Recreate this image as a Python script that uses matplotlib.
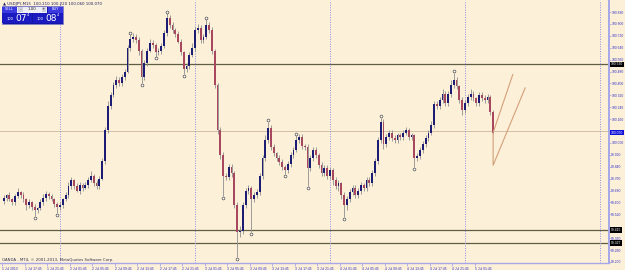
import numpy as np
import matplotlib.pyplot as plt
from matplotlib.patches import Rectangle
from matplotlib.transforms import blended_transform_factory

# USDJPY candles, half-hour steps, hours counted from 2 Jul 2013 00:00
symbol = "USDJPY,M15"
start_hour = -10.0
bar_hours = 0.5
first_open = 99.61
closes = [
    99.63, 99.65, 99.62, 99.60, 99.64, 99.67, 99.65, 99.62, 99.58, 99.60,
    99.57, 99.55, 99.56, 99.60, 99.63, 99.66, 99.64, 99.62, 99.59, 99.57,
    99.58, 99.62, 99.65, 99.71, 99.75, 99.71, 99.68, 99.72, 99.70, 99.72,
    99.75, 99.78, 99.73, 99.71, 99.76, 99.88, 100.09, 100.25, 100.32, 100.39,
    100.42, 100.40, 100.44, 100.48, 100.64, 100.70, 100.71, 100.69, 100.62, 100.44,
    100.54, 100.62, 100.67, 100.66, 100.61, 100.62, 100.65, 100.74, 100.84, 100.79,
    100.76, 100.73, 100.68, 100.61, 100.50, 100.52, 100.59, 100.64, 100.76, 100.77,
    100.69, 100.71, 100.79, 100.76, 100.62, 100.39, 100.09, 99.92, 99.78, 99.77,
    99.84, 99.80, 99.58, 99.40, 99.41, 99.58, 99.68, 99.70, 99.62, 99.65,
    99.67, 99.78, 99.90, 100.02, 100.10, 99.97, 99.93, 99.90, 99.87, 99.84,
    99.82, 99.86, 99.92, 99.95, 100.02, 100.04, 99.98, 99.97, 99.83, 99.90,
    99.95, 99.92, 99.85, 99.80, 99.83, 99.78, 99.82, 99.75, 99.71, 99.73,
    99.65, 99.58, 99.62, 99.67, 99.70, 99.65, 99.68, 99.72, 99.70, 99.75,
    99.73, 99.80, 99.88, 100.02, 100.14, 99.99, 100.04, 100.07, 100.03, 100.02,
    100.05, 100.04, 100.07, 100.09, 100.04, 100.05, 99.90, 99.91, 99.95, 99.99,
    100.03, 100.07, 100.12, 100.26, 100.25, 100.29, 100.33, 100.27, 100.33, 100.39,
    100.42, 100.38, 100.29, 100.22, 100.27, 100.31, 100.33, 100.30, 100.27, 100.32,
    100.30, 100.29, 100.31, 100.21, 100.07,
]
# wick lengths in pips above / below the body
wick_up = [
    2, 1, 2, 1, 2, 3, 1, 2, 1, 2,  1, 2, 1, 2, 3, 2, 1, 2, 1, 1,
    2, 1, 2, 3, 2, 1, 2, 2, 1, 2,  2, 3, 1, 2, 2, 2, 2, 3, 2, 2,
    3, 2, 2, 2, 2, 3, 3, 2, 2, 1,  2, 2, 3, 2, 1, 2, 2, 2, 3, 2,
    2, 1, 2, 2, 1, 2, 2, 3, 2, 3,  2, 2, 4, 2, 2, 1, 1, 2, 2, 2,
    2, 2, 1, 2, 3, 2, 2, 2, 1, 2,  2, 2, 2, 3, 4, 2, 2, 1, 2, 2,
    1, 2, 2, 2, 3, 2, 2, 1, 2, 2,  2, 2, 1, 2, 2, 2, 2, 1, 2, 2,
    1, 2, 2, 2, 2, 2, 2, 2, 1, 2,  2, 2, 2, 2, 3, 2, 2, 2, 2, 2,
    2, 2, 2, 2, 1, 2, 1, 2, 2, 2,  2, 2, 3, 2, 2, 2, 3, 2, 2, 3,
    5, 2, 1, 2, 2, 2, 3, 2, 1, 2,  2, 2, 2, 1, 1,
]
wick_dn = [
    2, 2, 1, 2, 2, 1, 2, 2, 3, 2,  2, 4, 2, 1, 2, 2, 2, 1, 2, 4,
    2, 2, 1, 2, 2, 2, 1, 2, 2, 1,  2, 1, 2, 2, 2, 1, 2, 2, 2, 1,
    2, 2, 2, 2, 1, 2, 2, 2, 3, 4,  2, 2, 1, 2, 3, 2, 2, 1, 2, 2,
    2, 2, 1, 2, 4, 2, 2, 1, 2, 2,  2, 2, 1, 2, 2, 2, 3, 3, 14, 2,
    2, 3, 2, 17, 3, 2, 2, 2, 22, 2,  2, 2, 2, 2, 2, 2, 2, 2, 2, 2,
    3, 2, 2, 2, 1, 2, 2, 2, 12, 2,  2, 2, 2, 2, 2, 2, 2, 3, 2, 3,
    3, 8, 3, 2, 2, 2, 2, 2, 2, 2,  2, 2, 2, 2, 2, 3, 2, 2, 2, 2,
    2, 2, 2, 2, 2, 2, 6, 2, 2, 2,  2, 2, 2, 2, 2, 2, 2, 2, 2, 2,
    2, 2, 2, 3, 2, 2, 2, 2, 2, 2,  2, 2, 2, 2, 1,
]
fractal_up = [45, 58, 72, 94, 104, 134, 160]
fractal_dn = [11, 19, 49, 54, 64, 78, 83, 88, 100, 108, 121, 146]

# objects on the chart
hlines_dark = [100.530, 99.415, 99.327]
hline_light = 100.080
trend_h = [80.5, 77.0, 77.0, 82.7]
trend_p = [100.46, 100.07, 99.85, 100.37]
day_separators = [0, 24, 48, 72, 96]

price_ticks = [100.880, 100.800, 100.720, 100.640, 100.560, 100.480, 100.400,
               100.320, 100.240, 100.160, 100.080, 100.000, 99.920, 99.840,
               99.760, 99.680, 99.600, 99.520, 99.440, 99.360, 99.280, 99.200]
time_ticks = [-10.25 + 4 * k for k in range(22)]
time_labels = ["1 Jul 2013", "1 Jul 17:45", "1 Jul 21:45", "2 Jul 01:45",
               "2 Jul 05:45", "2 Jul 09:45", "2 Jul 13:45", "2 Jul 17:45",
               "2 Jul 21:45", "3 Jul 01:45", "3 Jul 05:45", "3 Jul 09:45",
               "3 Jul 13:45", "3 Jul 17:45", "3 Jul 21:45", "4 Jul 01:45",
               "4 Jul 05:45", "4 Jul 09:45", "4 Jul 13:45", "4 Jul 17:45",
               "4 Jul 21:45", "5 Jul 01:45"]

bg = '#fdf0d8'
lav = '#a8a8e8'
blue_txt = '#3030c8'
small = dict(family='Liberation Sans', fontsize=2.4)

fig = plt.figure(figsize=(6.25, 2.7), dpi=100, facecolor=bg)
ax = fig.add_axes([0, 7 / 270, 609 / 625, 262 / 270])
ax.set_facecolor(bg)

n = len(closes)
hours = start_hour + bar_hours * np.arange(n)
c = np.array(closes)
o = np.array([first_open] + closes[:-1])
hi = np.maximum(o, c) + np.array(wick_up) / 100
lo = np.minimum(o, c) - np.array(wick_dn) / 100

for p in hlines_dark:
    ax.axhline(p, color='#5e5e42', lw=0.9, zorder=1)
ax.axhline(hline_light, color='#cdb99c', lw=0.6, zorder=1)
for d in day_separators:
    ax.axvline(d, color='#8c8ce6', lw=0.7, ls=(0, (1, 1.5)), zorder=1)

ax.vlines(hours, lo, hi, color='#8e8e8e', lw=0.6, zorder=2)
body = np.where(np.abs(c - o) < 0.004, 0.004, c - o)
bull = c >= o
ax.bar(hours[bull], body[bull], bottom=o[bull], width=0.32,
       color='#1c1c74', lw=0, zorder=3)
ax.bar(hours[~bull], body[~bull], bottom=o[~bull], width=0.32,
       color='#a8485e', lw=0, zorder=3)

ax.plot(hours[fractal_up], hi[fractal_up] + 0.012, 'o', ms=2.0,
        mfc='white', mec='#505050', mew=0.5, zorder=4)
ax.plot(hours[fractal_dn], lo[fractal_dn] - 0.012, 'o', ms=2.0,
        mfc='white', mec='#505050', mew=0.5, zorder=4)

ax.plot(trend_h, trend_p, color='#d3a07a', lw=0.8, zorder=4)

ax.set_xlim(-10.667, 97.6)
ax.set_ylim(99.193, 100.954)

# tick labels hidden behind the highlighted price boxes
boxed = hlines_dark + [closes[-1]]
shown = [p for p in price_ticks if min(abs(p - b) for b in boxed) > 0.03]
ax.yaxis.tick_right()
ax.set_yticks(shown)
ax.set_yticklabels([f"{p:.3f}" for p in shown], **small)
ax.tick_params(axis='y', labelcolor=blue_txt, color=lav,
               length=1.2, width=0.6, pad=0.4)
ax.set_xticks(time_ticks)
ax.set_xticklabels(time_labels, ha='left', **small)
ax.tick_params(axis='x', labelcolor=blue_txt, color=lav,
               length=2, width=0.6, pad=0.6)

for s in ['left', 'top']:
    ax.spines[s].set_visible(False)
ax.spines['right'].set_color(lav)
ax.spines['right'].set_linewidth(1.4)
ax.spines['bottom'].set_color(lav)
ax.spines['bottom'].set_linewidth(1.0)

tr = blended_transform_factory(ax.transAxes, ax.transData)
for p in hlines_dark:
    ax.text(1.003, p, f"{p:.3f}", transform=tr, color='white',
            va='center', ha='left', zorder=6, clip_on=False, **small,
            bbox=dict(facecolor='black', edgecolor='none', pad=0.4))
ax.text(1.003, closes[-1], f"{closes[-1]:.3f}", transform=tr,
        color='white', va='center', ha='left', zorder=6, clip_on=False, **small,
        bbox=dict(facecolor='#1010d8', edgecolor='none', pad=0.4))

# overlay in pixel units for the header, trading panel and copyright
ov = fig.add_axes([0, 0, 1, 1], zorder=10)
ov.set_xlim(0, 625)
ov.set_ylim(270, 0)
ov.axis('off')
ov.patch.set_alpha(0)

header = f"{symbol}  {o[-1]:.3f} {hi[-1]:.3f} {lo[-1]:.3f} {c[-1]:.3f}"
ov.text(3, 3.5, "\u25b2 " + header, fontsize=2.8, color='#202060', va='center')

ov.add_patch(Rectangle((1.5, 6), 61.5, 17.5, facecolor='#1414a8', edgecolor='#8080d0', lw=0.4))
ov.add_patch(Rectangle((2, 6.5), 14.5, 6, facecolor='#3a3ae0', edgecolor='none'))
ov.add_patch(Rectangle((47.5, 6.5), 15, 6, facecolor='#3a3ae0', edgecolor='none'))
ov.add_patch(Rectangle((17, 6.5), 30, 6, facecolor='#eeeef4', edgecolor='none'))
ov.add_patch(Rectangle((18, 7.2), 4.5, 4.6, facecolor='#d0d0dc', edgecolor='none'))
ov.add_patch(Rectangle((41.5, 7.2), 4.5, 4.6, facecolor='#d0d0dc', edgecolor='none'))
ov.text(9.2, 9.5, "SELL", fontsize=2.6, color='white', ha='center', va='center')
ov.text(55, 9.5, "BUY", fontsize=2.6, color='white', ha='center', va='center')
ov.text(20.2, 9.5, "-", fontsize=3, color='#202020', ha='center', va='center')
ov.text(43.7, 9.5, "+", fontsize=3, color='#202020', ha='center', va='center')
ov.text(32, 9.5, "1.00", fontsize=2.8, color='#202020', ha='center', va='center')
ov.add_patch(Rectangle((2, 13.2), 30, 9.8, facecolor='#1a1ac0', edgecolor='none'))
ov.add_patch(Rectangle((32.8, 13.2), 29.7, 9.8, facecolor='#1a1ac0', edgecolor='none'))
ov.text(10, 19, "100", fontsize=2.6, color='white', ha='center', va='center')
ov.text(21, 18.2, "07", fontsize=6.5, color='white', ha='center', va='center')
ov.text(27.5, 15.5, "4", fontsize=2.6, color='white', ha='center', va='center')
ov.text(40.5, 19, "100", fontsize=2.6, color='white', ha='center', va='center')
ov.text(51.5, 18.2, "08", fontsize=6.5, color='white', ha='center', va='center')
ov.text(58, 15.5, "4", fontsize=2.6, color='white', ha='center', va='center')

ov.text(2.5, 259.5, "OANDA - MT4, \u00a9 2001-2013, MetaQuotes Software Corp.",
        fontsize=2.8, color='#303050', va='center')

fig.savefig('out.png', dpi=100, facecolor=bg)
